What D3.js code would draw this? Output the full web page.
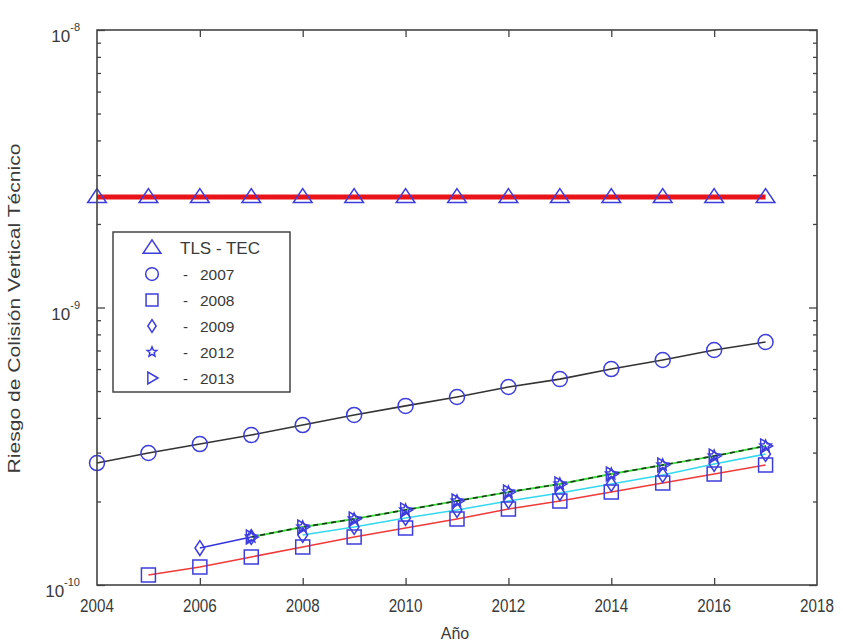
<!DOCTYPE html>
<html><head><meta charset="utf-8">
<script src="https://cdn.jsdelivr.net/npm/d3@7"></script>
<style>
html,body{margin:0;padding:0;background:#fff;}
text{font-family:"Liberation Sans",Arial,sans-serif;fill:#3a3a3a;}
</style></head>
<body><svg id="c" width="843" height="644"></svg>
<script>
// ---- data ----
const xTicks = [2004, 2006, 2008, 2010, 2012, 2014, 2016, 2018];
const yTickExps = [-8, -9, -10];
const legendNames = ["TLS - TEC", "2007", "2008", "2009", "2012", "2013"];

const yearsTLS = [2004,2005,2006,2007,2008,2009,2010,2011,2012,2013,2014,2015,2016,2017];
const valsTLS  = [2.5e-9,2.5e-9,2.5e-9,2.5e-9,2.5e-9,2.5e-9,2.5e-9,2.5e-9,2.5e-9,2.5e-9,2.5e-9,2.5e-9,2.5e-9,2.5e-9];

const years2007 = [2004,2005,2006,2007,2008,2009,2010,2011,2012,2013,2014,2015,2016,2017];
const vals2007  = [2.75e-10,2.99e-10,3.22e-10,3.47e-10,3.77e-10,4.10e-10,4.42e-10,4.76e-10,5.17e-10,5.52e-10,6.00e-10,6.47e-10,7.03e-10,7.51e-10];

const years2008 = [2005,2006,2007,2008,2009,2010,2011,2012,2013,2014,2015,2016,2017];
const vals2008  = [1.087e-10,1.161e-10,1.262e-10,1.371e-10,1.489e-10,1.605e-10,1.729e-10,1.879e-10,2.008e-10,2.163e-10,2.331e-10,2.512e-10,2.706e-10];

const years2009 = [2006,2007,2008,2009,2010,2011,2012,2013,2014,2015,2016,2017];
const vals2009  = [1.359e-10,1.489e-10,1.514e-10,1.618e-10,1.744e-10,1.864e-10,2.008e-10,2.145e-10,2.312e-10,2.491e-10,2.729e-10,2.965e-10];

const years2012 = [2007,2008,2009,2010,2011,2012,2013,2014,2015,2016,2017];
const vals2012  = [1.489e-10,1.618e-10,1.729e-10,1.864e-10,2.008e-10,2.163e-10,2.312e-10,2.512e-10,2.706e-10,2.916e-10,3.17e-10];

const years2013 = [2007,2008,2009,2010,2011,2012,2013,2014,2015,2016,2017];
const vals2013  = [1.489e-10,1.618e-10,1.729e-10,1.864e-10,2.008e-10,2.163e-10,2.312e-10,2.512e-10,2.706e-10,2.916e-10,3.17e-10];

// ---- layout ----
const svg = d3.select("#c");
const L = 97, R = 817, T = 30, B = 585;
const x = d3.scaleLinear().domain([2004, 2018]).range([L, R]);
const y = d3.scaleLog().domain([1e-10, 1e-8]).range([B, T]);
const axisCol = "#444";
const markCol = "#3d3ddd";

// minor & major ticks (log)
const g = svg.append("g");
const minorVals = [];
for (let e = -10; e < -8; e++) for (let m = 2; m <= 9; m++) minorVals.push(m * Math.pow(10, e));
const yL = d3.axisRight(y).tickValues(minorVals).tickSize(4).tickFormat("");
const yL2 = d3.axisRight(y).tickValues(yTickExps.map(e => Math.pow(10, e))).tickSize(8).tickFormat("");
const yR = d3.axisLeft(y).tickValues(minorVals).tickSize(4).tickFormat("");
const yR2 = d3.axisLeft(y).tickValues(yTickExps.map(e => Math.pow(10, e))).tickSize(8).tickFormat("");
[[yL, L], [yL2, L], [yR, R], [yR2, R]].forEach(([ax, px]) => {
  const a = g.append("g").attr("transform", `translate(${px},0)`).call(ax);
  a.select(".domain").remove();
  a.selectAll("line").attr("stroke", axisCol).attr("stroke-width", 1.3);
});
const xB = d3.axisTop(x).tickValues(xTicks.slice(1, -1)).tickSize(7).tickFormat("");
const xT = d3.axisBottom(x).tickValues(xTicks.slice(1, -1)).tickSize(7).tickFormat("");
[[xB, B], [xT, T]].forEach(([ax, py]) => {
  const a = g.append("g").attr("transform", `translate(0,${py})`).call(ax);
  a.select(".domain").remove();
  a.selectAll("line").attr("stroke", axisCol).attr("stroke-width", 1.3);
});

// tick labels
xTicks.forEach(t => {
  svg.append("text").attr("x", x(t)).attr("y", B + 27).attr("text-anchor", "middle")
    .attr("font-size", 16).attr("transform", `translate(${x(t)},${B + 27}) scale(0.95,1.1) translate(${-x(t)},${-(B + 27)})`).text(t);
});
yTickExps.forEach(e => {
  const t = svg.append("text").attr("x", 80).attr("y", y(Math.pow(10, e)) + 12)
    .attr("text-anchor", "end").attr("font-size", 17);
  t.append("tspan").text("10");
  t.append("tspan").attr("dy", -11).attr("font-size", 11).text(String(e));
});
svg.append("text").attr("x", (L + R) / 2 - 2).attr("y", 639).attr("text-anchor", "middle")
  .attr("font-size", 16).text("Año");
svg.append("text").attr("transform", `translate(20,${(T + B) / 2 + 1}) rotate(-90)`)
  .attr("text-anchor", "middle").attr("font-size", 16)
  .attr("textLength", 330).attr("lengthAdjust", "spacingAndGlyphs")
  .text("Riesgo de Colisión Vertical Técnico");

// marker paths
function markerPath(type, s) {
  switch (type) {
    case "tri": return `M0,${-s}L${s*1.1},${s*0.65}L${-s*1.1},${s*0.65}Z`;
    case "circ": return d3.symbol(d3.symbolCircle, Math.PI * s * s)();
    case "sq": return `M${-s},${-s}H${s}V${s}H${-s}Z`;
    case "dia": return `M0,${-s*1.15}L${s*0.75},0L0,${s*1.15}L${-s*0.75},0Z`;
    case "star": {
      let p = "";
      for (let i = 0; i < 10; i++) {
        const r = i % 2 ? s * 0.45 : s;
        const a = -Math.PI / 2 + i * Math.PI / 5;
        p += (i ? "L" : "M") + (r * Math.cos(a)).toFixed(2) + "," + (r * Math.sin(a)).toFixed(2);
      }
      return p + "Z";
    }
    case "triR": return `M${s},0L${-s*0.7},${-s}L${-s*0.7},${s}Z`;
  }
}

const series = [
  { yrs: yearsTLS, vals: valsTLS, color: "#e8141a", width: 5, dash: null, marker: "tri", ms: 8.5 },
  { yrs: years2007, vals: vals2007, color: "#333", width: 1.6, dash: null, marker: "circ", ms: 7.5 },
  { yrs: years2008, vals: vals2008, color: "#f03a3a", width: 1.6, dash: null, marker: "sq", ms: 7 },
  { yrs: years2009, vals: vals2009, color: "#33d8ee", width: 1.6, dash: null, marker: "dia", ms: 6.5, firstSeg: "#3333dd" },
  { yrs: years2012, vals: vals2012, color: "#3ed83e", width: 1.8, dash: null, marker: "star", ms: 6 },
  { yrs: years2013, vals: vals2013, color: "#1a3a1a", width: 1.6, dash: "5,4", marker: "triR", ms: 7 }
];

const line = d3.line().x(d => x(d[0])).y(d => y(d[1]));
const lg = svg.append("g"), mg = svg.append("g");
series.forEach(s => {
  const pts = s.yrs.map((yr, i) => [yr, s.vals[i]]);
  if (s.firstSeg) {
    lg.append("path").attr("d", line(pts.slice(0, 2))).attr("fill", "none")
      .attr("stroke", s.firstSeg).attr("stroke-width", s.width);
    lg.append("path").attr("d", line(pts.slice(2))).attr("fill", "none")
      .attr("stroke", s.color).attr("stroke-width", s.width);
  } else {
    lg.append("path").attr("d", line(pts)).attr("fill", "none")
      .attr("stroke", s.color).attr("stroke-width", s.width)
      .attr("stroke-dasharray", s.dash);
  }
  pts.forEach(p => {
    mg.append("path").attr("d", markerPath(s.marker, s.ms))
      .attr("transform", `translate(${x(p[0])},${y(p[1])})`)
      .attr("fill", "none").attr("stroke", markCol).attr("stroke-width", 1.5);
  });
});

// frame
svg.append("rect").attr("x", L).attr("y", T).attr("width", R - L).attr("height", B - T)
  .attr("fill", "none").attr("stroke", axisCol).attr("stroke-width", 1.6);

// legend
const lgx = 113, lgy = 232, lgw = 177, lgh = 160;
svg.append("rect").attr("x", lgx).attr("y", lgy).attr("width", lgw).attr("height", lgh)
  .attr("fill", "#fff").attr("stroke", axisCol).attr("stroke-width", 1.5);
series.forEach((s, i) => {
  const cy = lgy + 16 + i * 26;
  svg.append("path").attr("d", markerPath(s.marker, s.ms * (i === 0 ? 0.95 : 0.85)))
    .attr("transform", `translate(${lgx + 39},${cy})`)
    .attr("fill", "none").attr("stroke", markCol).attr("stroke-width", 1.5);
  if (i === 0) {
    svg.append("text").attr("x", lgx + 67).attr("y", cy + 6)
      .attr("font-size", 17).text(legendNames[i]);
  } else {
    svg.append("text").attr("x", lgx + 70).attr("y", cy + 6)
      .attr("font-size", 15).text("-");
    svg.append("text").attr("x", lgx + 87).attr("y", cy + 6)
      .attr("font-size", 15.5).text(legendNames[i]);
  }
});
</script></body></html>
